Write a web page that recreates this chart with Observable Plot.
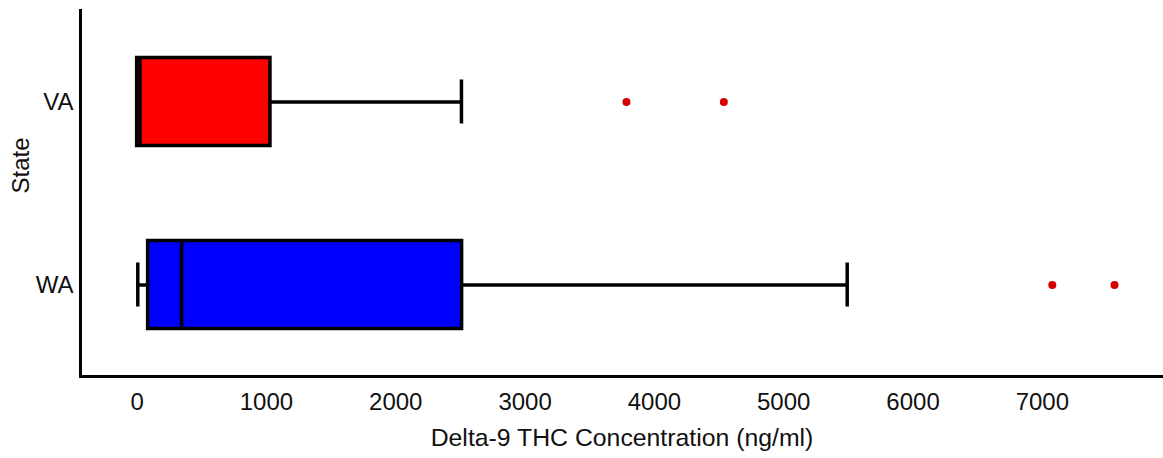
<!DOCTYPE html>
<html><head><meta charset="utf-8">
<script src="https://cdn.jsdelivr.net/npm/d3@7"></script>
<script src="https://cdn.jsdelivr.net/npm/@observablehq/plot@0.6"></script>
<style>body{margin:0;background:#fff;}</style>
</head><body><div id="chart"></div>
<script>
const states = ["VA", "WA"];
const mins = [0, 5];
const q1s = [0, 85];
const medians = [22, 343];
const q3s = [1031, 2513];
const maxs = [2508, 5491];
const boxColors = ["#ff0000", "#0000ff"];
const outlierStates = ["VA", "VA", "WA", "WA"];
const outlierValues = [3784, 4537, 7077, 7558];
const xTicks = [0, 1000, 2000, 3000, 4000, 5000, 6000, 7000];
const xLabel = "Delta-9 THC Concentration (ng/ml)";
const yLabel = "State";

const rows = states.map((s, i) => ({state: s, min: mins[i], q1: q1s[i], median: medians[i], q3: q3s[i], max: maxs[i], color: boxColors[i]}));
const outliers = outlierStates.map((s, i) => ({state: s, value: outlierValues[i]}));

const font = "'Liberation Sans', Arial, Helvetica, sans-serif";
const chart = Plot.plot({
  width: 1163,
  height: 458,
  marginLeft: 80,
  marginRight: 0,
  marginTop: 10,
  marginBottom: 82,
  style: {fontFamily: font, fontSize: "24px", background: "#fff", color: "#000"},
  x: {domain: [-438, 7937], axis: null},
  y: {domain: states, padding: 0, axis: null},
  color: {type: "identity"},
  marks: [
    Plot.ruleY(rows, {y: "state", x1: "min", x2: "q1", stroke: "black", strokeWidth: 3.5}),
    Plot.ruleY(rows, {y: "state", x1: "q3", x2: "max", stroke: "black", strokeWidth: 3.5}),
    Plot.tickX(rows, {x: "min", y: "state", stroke: "black", strokeWidth: 3.5, insetTop: 69.5, insetBottom: 69.5}),
    Plot.tickX(rows, {x: "max", y: "state", stroke: "black", strokeWidth: 3.5, insetTop: 69.5, insetBottom: 69.5}),
    Plot.barX(rows, {x1: "q1", x2: "q3", y: "state", fill: "color", stroke: "black", strokeWidth: 3.5, insetTop: 47.5, insetBottom: 47.5}),
    Plot.tickX(rows, {x: "median", y: "state", stroke: "black", strokeWidth: 3.5, insetTop: 47.5, insetBottom: 47.5}),
    Plot.dot(outliers, {x: "value", y: "state", r: 4, fill: "#d40000", stroke: "none"}),
    Plot.frame({anchor: "left", stroke: "black", strokeWidth: 3}),
    Plot.frame({anchor: "bottom", stroke: "black", strokeWidth: 3}),
    Plot.axisX(xTicks, {tickSize: 0, tickPadding: 16, label: null, tickFormat: d => String(d), fontSize: 24, fill: "#111"}),
    Plot.axisY({tickSize: 0, tickPadding: 7, label: null, fontSize: 24, fill: "#111"}),
    Plot.text([xLabel], {text: d => d, frameAnchor: "bottom", dy: 69, fontSize: 24.8, fill: "#111"}),
    Plot.text([yLabel], {text: d => d, frameAnchor: "left", rotate: -90, dx: -59, fontSize: 24, fill: "#111"})
  ]
});
document.getElementById("chart").appendChild(chart);
</script>
</body></html>
